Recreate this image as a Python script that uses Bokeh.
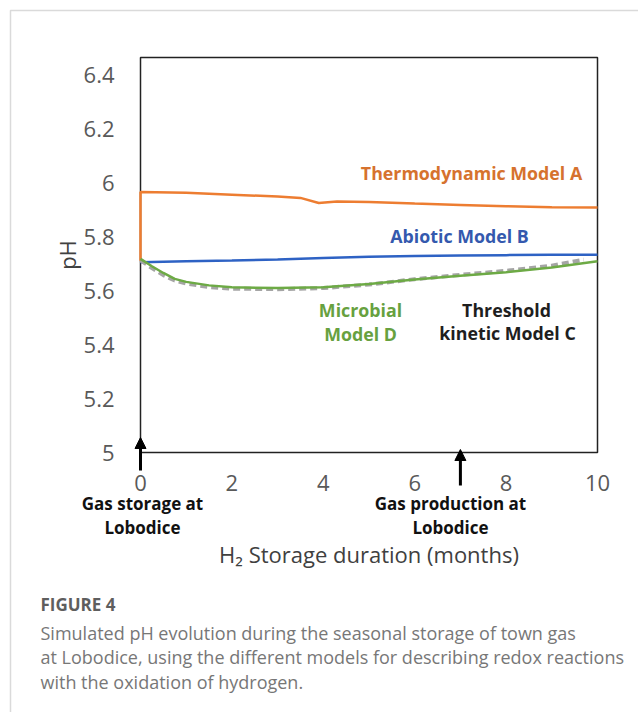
from bokeh.plotting import figure
from bokeh.models import (Range1d, Label, Arrow, NormalHead, CustomJSTickFormatter,
                          FixedTicker, LinearAxis, BoxAnnotation)
from bokeh.embed import file_html
from bokeh.resources import INLINE

# ---------------- data ----------------
x_thermo = [0, 0, 1, 2, 3, 3.5, 3.9, 4.3, 5, 6, 7, 8, 9, 10]
y_thermo = [5.71, 5.965, 5.962, 5.955, 5.948, 5.943, 5.924, 5.930, 5.928, 5.922, 5.917, 5.912, 5.908, 5.907]

x_abiotic = [0, 1, 2, 3, 4, 5, 6, 7, 8, 9, 10]
y_abiotic = [5.705, 5.708, 5.711, 5.715, 5.720, 5.725, 5.728, 5.730, 5.731, 5.732, 5.732]

x_microbial = [0, 0.25, 0.5, 0.75, 1, 1.5, 2, 3, 4, 5, 6, 7, 8, 9, 10]
y_microbial = [5.717, 5.690, 5.665, 5.643, 5.632, 5.619, 5.612, 5.609, 5.612, 5.624, 5.641, 5.655, 5.668, 5.685, 5.708]

x_threshold = [0, 0.25, 0.5, 0.75, 1, 1.5, 2, 3, 4, 5, 6, 7, 8, 9, 9.7]
y_threshold = [5.712, 5.683, 5.657, 5.637, 5.626, 5.613, 5.607, 5.605, 5.609, 5.622, 5.642, 5.658, 5.673, 5.692, 5.714]

x_ticks = [0, 2, 4, 6, 8, 10]
y_ticks = [5, 5.2, 5.4, 5.6, 5.8, 6, 6.2, 6.4]

event_x = [0, 7]
event_text = [["Gas storage at", "Lobodice"], ["Gas production at", "Lobodice"]]

caption_title = "FIGURE 4"
caption_lines = [
    "Simulated pH evolution during the seasonal storage of town gas",
    "at Lobodice, using the different models for describing redox reactions",
    "with the oxidation of hydrogen.",
]

# ---------------- layout geometry (canvas pixels) ----------------
W, H = 638, 712
FL, FR, FT, FB = 140, 597, 57, 452      # chart box
X0, X1 = 0, 10
Y0, Y1 = 5, 6.463


def dx(px):
    return X0 + (px - FL) * (X1 - X0) / (FR - FL)


def dy(py):
    return Y0 + (FB - py) * (Y1 - Y0) / (FB - FT)


p = figure(width=W, height=H, output_backend="svg", toolbar_location=None,
           x_range=Range1d(dx(0), dx(W)), y_range=Range1d(dy(H), dy(0)),
           x_axis_type=None, y_axis_type=None, min_border=0)
p.background_fill_color = "white"
p.border_fill_color = "white"
p.outline_line_color = None
p.grid.visible = False

FONT = "Open Sans"

# card border
p.add_layout(BoxAnnotation(left=dx(10), right=dx(W + 10), top=dy(10), bottom=dy(H + 10),
                           fill_alpha=0, line_color="#dadada", line_alpha=1, line_width=1.5,
                           level="underlay"))

# axes placed at the chart box edges
xaxis = LinearAxis(fixed_location=Y0, bounds=(X0, X1), ticker=FixedTicker(ticks=x_ticks),
                   formatter=CustomJSTickFormatter(code="return Math.round(tick).toString();"),
                   axis_label="H\u2082 Storage duration (months)")
yaxis = LinearAxis(fixed_location=X0, bounds=(Y0, Y1), ticker=FixedTicker(ticks=y_ticks),
                   formatter=CustomJSTickFormatter(code="return (Math.round(tick*10)/10).toString();"),
                   axis_label="pH")
for ax in (xaxis, yaxis):
    ax.major_tick_line_color = None
    ax.minor_tick_line_color = None
    ax.axis_line_color = None
    ax.major_label_text_font = FONT
    ax.major_label_text_font_size = "22px"
    ax.major_label_text_color = "#595959"
    ax.axis_label_text_font = FONT
    ax.axis_label_text_font_style = "normal"
    ax.axis_label_text_color = "#404040"
    ax.axis_label_text_font_size = "22px"
xaxis.major_label_standoff = 16
xaxis.axis_label_standoff = 45
yaxis.major_label_standoff = 20
yaxis.axis_label_standoff = -1
p.add_layout(xaxis, "below")
p.add_layout(yaxis, "left")

# chart box (under the series so the orange jump at x=0 stays visible)
p.add_layout(BoxAnnotation(left=X0, right=X1, bottom=Y0, top=Y1, fill_alpha=0,
                           line_color="#222222", line_alpha=1, line_width=1.5,
                           level="underlay"))

# ---------------- series ----------------
p.line(x_thermo, y_thermo, line_color="#ED7D31", line_width=2.5)
p.line(x_abiotic, y_abiotic, line_color="#2E62C4", line_width=2.5)
p.line(x_threshold, y_threshold, line_color="#A5A5A5", line_width=4, line_dash="7 4")
p.line(x_microbial, y_microbial, line_color="#6DAA45", line_width=2.5)


def add_label(x, y, text, color, size="17.8px", style="bold", font=FONT, align="center"):
    p.add_layout(Label(x=x, y=y, text=text, text_color=color, text_font=font,
                       text_font_size=size, text_font_style=style,
                       text_align=align, text_baseline="middle"))


# ---------------- series labels ----------------
add_label(dx(471), dy(172), "Thermodynamic Model A", "#D6722E")
add_label(dx(459), dy(235), "Abiotic Model B", "#3459AE")
add_label(dx(360), dy(309), "Microbial", "#67A13F")
add_label(dx(360), dy(333), "Model D", "#67A13F")
add_label(dx(506), dy(309), "Threshold", "#1E1E1E")
add_label(dx(507), dy(332), "kinetic Model C", "#1E1E1E")

# ---------------- event arrows & labels ----------------
arrow_tail = [470, 485]
arrow_tip = [437, 449]
label_cx = [142, 450]
for ex, tail, tip, cx, lines in zip(event_x, arrow_tail, arrow_tip, label_cx, event_text):
    p.add_layout(Arrow(x_start=ex, y_start=dy(tail), x_end=ex, y_end=dy(tip),
                       line_color="black", line_width=3,
                       end=NormalHead(size=11, fill_color="black", line_color="black")))
    add_label(dx(cx), dy(503), lines[0], "#111111", size="17px")
    add_label(dx(cx), dy(527), lines[1], "#111111", size="17px")

# ---------------- caption ----------------
add_label(dx(40), dy(604), caption_title, "#5e5e5e", size="17px", style="bold", align="left")
for i, line in enumerate(caption_lines):
    add_label(dx(40), dy(632 + 24.5 * i), line, "#777777", size="18px", style="normal",
              align="left")

open("out.html", "w").write(file_html(p, INLINE))
